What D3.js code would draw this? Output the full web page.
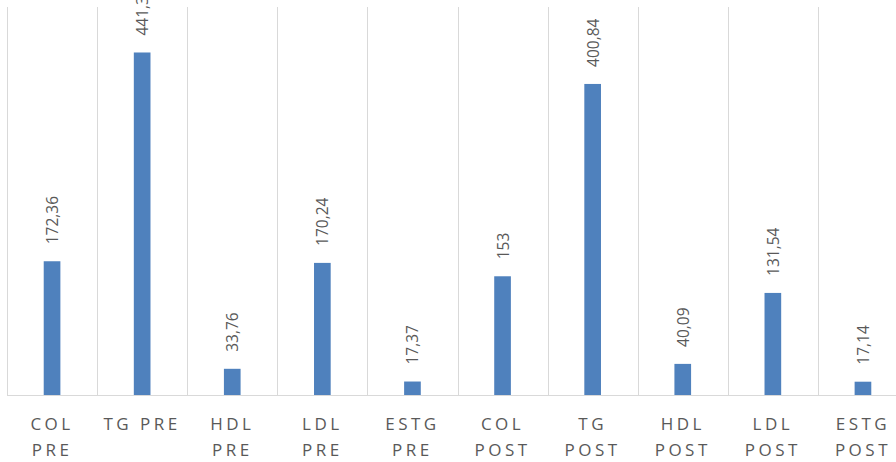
<!DOCTYPE html>
<html>
<head>
<meta charset="utf-8">
<script src="https://cdn.jsdelivr.net/npm/d3@7"></script>
<style>
  html, body { margin: 0; padding: 0; background: #fff; }
  svg { display: block; }
</style>
</head>
<body>
<div id="chart"></div>
<script>
// Lipid profile values, before and after
const categories = ["COL PRE", "TG PRE", "HDL PRE", "LDL PRE", "ESTG PRE",
                    "COL POST", "TG POST", "HDL POST", "LDL POST", "ESTG POST"];
// Axis labels broken into lines
const labelLines = [["COL", "PRE"], ["TG PRE"], ["HDL", "PRE"], ["LDL", "PRE"], ["ESTG", "PRE"],
                    ["COL", "POST"], ["TG", "POST"], ["HDL", "POST"], ["LDL", "POST"], ["ESTG", "POST"]];
const values = [172.36, 441.38, 33.76, 170.24, 17.37, 153, 400.84, 40.09, 131.54, 17.14];
const yDomain = [0, 500];

const width = 896, height = 462;
const plot = { left: 7, top: 7, right: 908, bottom: 395 };

const svg = d3.select("#chart").append("svg")
  .attr("width", width).attr("height", height);

const x = d3.scaleBand()
  .domain(categories)
  .range([plot.left, plot.right])
  .paddingInner(0.815)
  .paddingOuter(0.4075);

const y = d3.scaleLinear().domain(yDomain).range([plot.bottom, plot.top]);

const step = x.step();

// Vertical gridlines at category boundaries
const boundaries = d3.range(categories.length + 1).map(i => plot.left + i * step);
svg.append("g").selectAll("line").data(boundaries).join("line")
  .attr("x1", d => Math.round(d) + 0.5).attr("x2", d => Math.round(d) + 0.5)
  .attr("y1", plot.top).attr("y2", plot.bottom)
  .attr("stroke", "#d9d9d9").attr("stroke-width", 1);

// Baseline
svg.append("line")
  .attr("x1", plot.left).attr("x2", plot.right)
  .attr("y1", plot.bottom + 0.5).attr("y2", plot.bottom + 0.5)
  .attr("stroke", "#d9d9d9").attr("stroke-width", 1);

// Bars
svg.append("g").selectAll("rect").data(values).join("rect")
  .attr("x", (d, i) => x(categories[i]))
  .attr("width", x.bandwidth())
  .attr("y", d => y(d))
  .attr("height", d => y(0) - y(d))
  .attr("fill", "#4f81bd");

// Value labels, rotated
const fmt = v => String(v).replace(".", ",");
svg.append("g").selectAll("text").data(values).join("text")
  .attr("transform", (d, i) =>
    `translate(${x(categories[i]) + x.bandwidth() / 2},${y(d) - 17}) rotate(-90)`)
  .attr("text-anchor", "start")
  .attr("dominant-baseline", "central")
  .attr("font-family", "'Open Sans', sans-serif")
  .attr("font-size", 15.5)
  .attr("fill", "#595959")
  .text(d => fmt(d));

// Category labels
const xl = svg.append("g");
labelLines.forEach((lines, i) => {
  const cx = x(categories[i]) + x.bandwidth() / 2;
  const t = xl.append("text")
    .attr("font-family", "'Open Sans', sans-serif")
    .attr("font-size", 17)
    .attr("letter-spacing", "3.5px")
    .attr("fill", "#595959")
    .attr("text-anchor", "middle");
  lines.forEach((ln, j) => {
    t.append("tspan").attr("x", cx).attr("y", 430 + j * 26).text(ln);
  });
});
</script>
</body>
</html>
